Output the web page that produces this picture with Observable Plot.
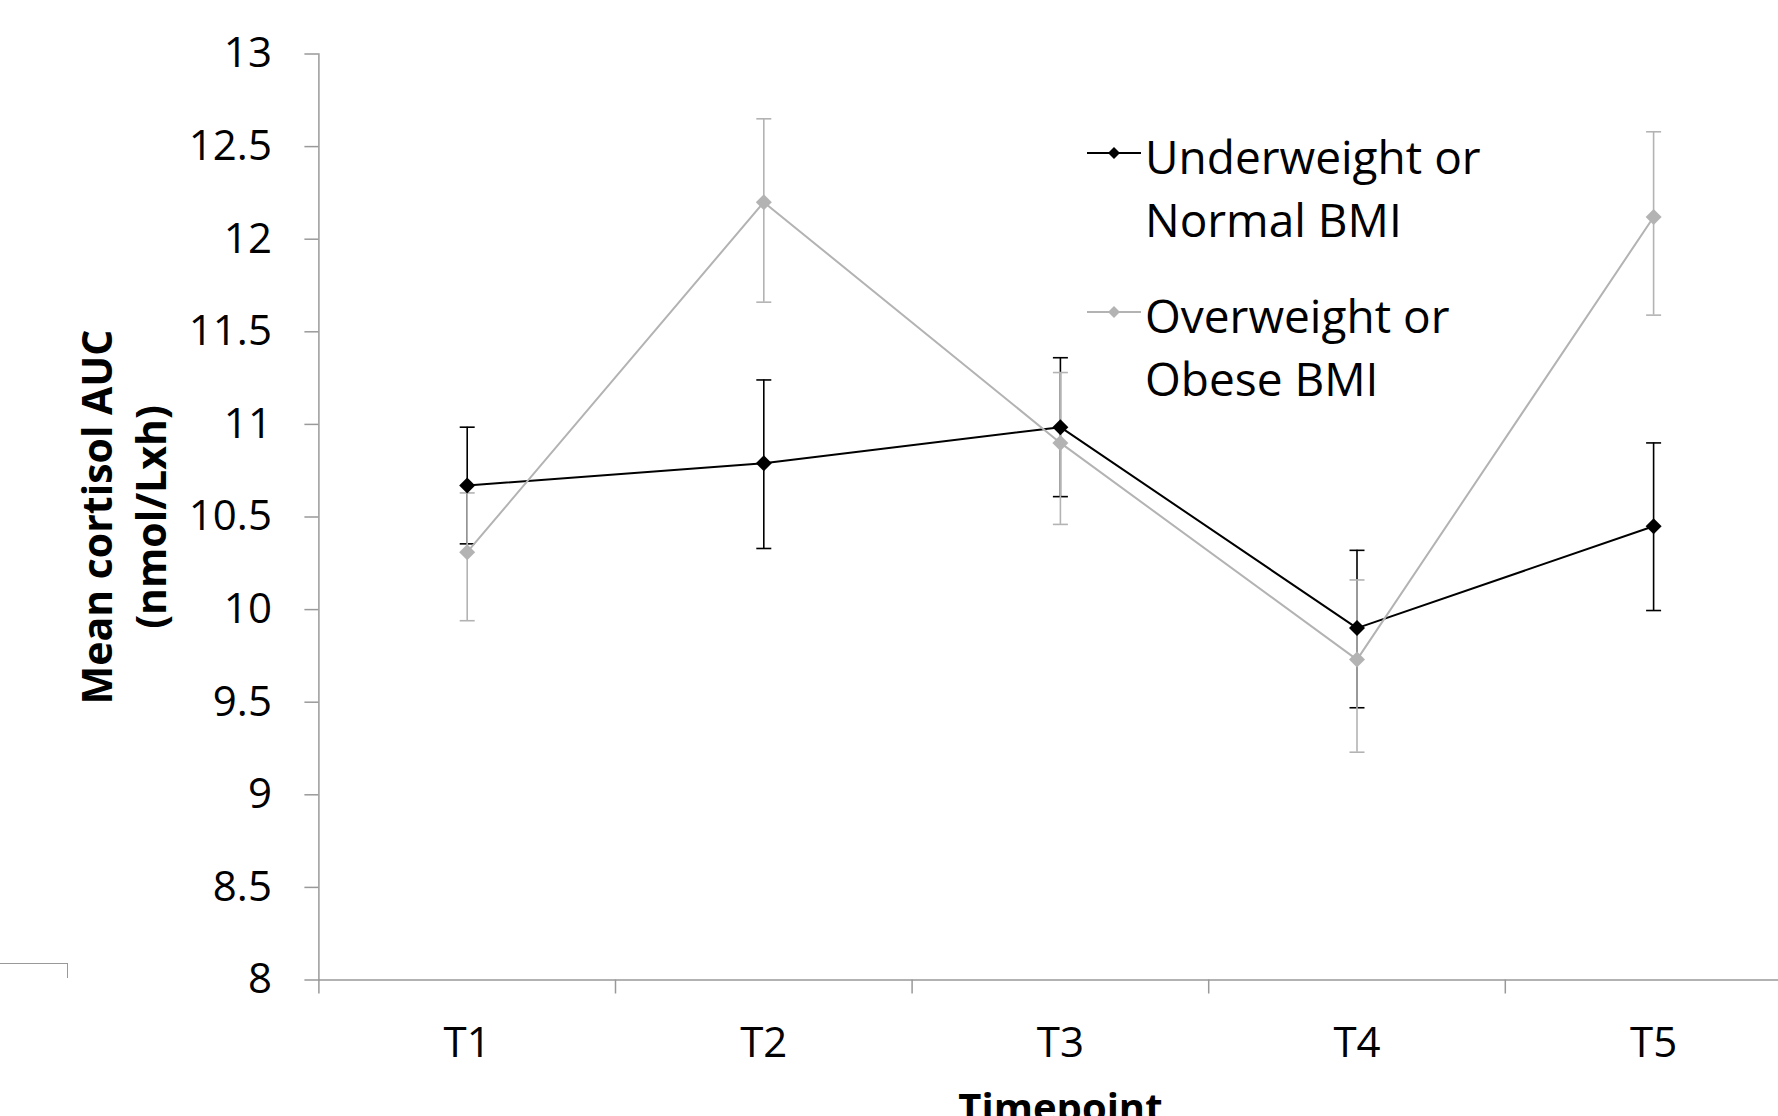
<!DOCTYPE html>
<html>
<head>
<meta charset="utf-8">
<script src="https://cdn.jsdelivr.net/npm/d3@7"></script>
<script src="https://cdn.jsdelivr.net/npm/@observablehq/plot@0.6"></script>
<style>
  html, body { margin: 0; padding: 0; background: #fff; }
  #wrap { position: relative; width: 1778px; height: 1116px; overflow: hidden; font-family: "Open Sans", sans-serif; }
  #legend { position: absolute; left: 1087px; top: 124.6px; }
  .item { position: relative; padding-left: 58px; font-size: 46px; line-height: 63px; color: #000; white-space: nowrap; }
  .item + .item { margin-top: 33px; }
  .item svg { position: absolute; left: 0; top: 20px; }
  #artifact { position: absolute; left: 0; top: 963px; width: 67px; height: 14px; border-top: 1.5px solid #999; border-right: 1.5px solid #999; }
  g[aria-label="marker"] { filter: drop-shadow(1px 2px 2px rgba(0,0,0,0.35)); }
</style>
</head>
<body>
<div id="wrap">
  <div id="chart"></div>
  <div id="legend"></div>
  <div id="artifact"></div>
</div>
<script>
// ---- data ----
const timepoints = ["T1", "T2", "T3", "T4", "T5"];
const seriesNames = ["Underweight or\nNormal BMI", "Overweight or\nObese BMI"];

const normalMean = [10.67, 10.79, 10.985, 9.90, 10.45];
const normalLow  = [10.355, 10.33, 10.61, 9.47, 9.995];
const normalHigh = [10.985, 11.24, 11.36, 10.32, 10.90];

const overMean = [10.31, 12.20, 10.90, 9.73, 12.12];
const overLow  = [9.94, 11.66, 10.46, 9.23, 11.59];
const overHigh = [10.63, 12.65, 11.28, 10.16, 12.58];

const yTicks = [8, 8.5, 9, 9.5, 10, 10.5, 11, 11.5, 12, 12.5, 13];

// ---- styling ----
const axisGrey = "#999";
const seriesStyles = [
  {color: "#000000", lineWidth: 2, barWidth: 1.6},
  {color: "#b3b3b3", lineWidth: 2, barWidth: 1.6}
];

const series = [
  {name: seriesNames[0], mean: normalMean, low: normalLow, high: normalHigh, ...seriesStyles[0]},
  {name: seriesNames[1], mean: overMean, low: overLow, high: overHigh, ...seriesStyles[1]}
];
const rowsOf = s => timepoints.map((t, i) => ({t: i + 1, label: t, mean: s.mean[i], low: s.low[i], high: s.high[i]}));

const capSymbol = {draw(ctx, size) { const h = Math.sqrt(size / Math.PI); ctx.moveTo(-h, 0); ctx.lineTo(h, 0); }};
const diamondSymbol = {draw(ctx, size) { const h = Math.sqrt(size / Math.PI); ctx.moveTo(0, -h); ctx.lineTo(h, 0); ctx.lineTo(0, h); ctx.lineTo(-h, 0); ctx.closePath(); }};

const n = timepoints.length;
const boundaries = d3.range(0.5, n + 1, 1);

const bars = series.flatMap(s => {
  const rows = rowsOf(s);
  return [
    Plot.ruleX(rows, {x: "t", y1: "low", y2: "high", stroke: s.color, strokeWidth: s.barWidth}),
    Plot.dot(rows, {x: "t", y: "low", symbol: capSymbol, r: 7.5, stroke: s.color, strokeWidth: s.barWidth, fill: "none"}),
    Plot.dot(rows, {x: "t", y: "high", symbol: capSymbol, r: 7.5, stroke: s.color, strokeWidth: s.barWidth, fill: "none"})
  ];
});
const lines = series.map(s => Plot.line(rowsOf(s), {x: "t", y: "mean", stroke: s.color, strokeWidth: s.lineWidth}));
const markers = series.map(s => Plot.dot(rowsOf(s), {x: "t", y: "mean", symbol: diamondSymbol, r: 8, fill: s.color, stroke: "none", ariaLabel: "marker"}));

const chart = Plot.plot({
  width: 1778,
  height: 1116,
  marginLeft: 318.4,
  marginRight: -23.4,
  marginTop: 53.5,
  marginBottom: 136.5,
  style: {fontFamily: "Open Sans", fontSize: "42px", background: "transparent", color: "#000"},
  x: {type: "linear", domain: [0.5, n + 0.5], axis: null},
  y: {type: "linear", domain: [8, 13], axis: null},
  marks: [
    Plot.ruleY([8], {stroke: axisGrey, strokeWidth: 1.5}),
    Plot.frame({anchor: "left", stroke: axisGrey, strokeWidth: 1.5}),
    Plot.axisY({ticks: yTicks, tickFormat: d => String(d), tickSize: 14, tickPadding: 33, stroke: axisGrey, strokeWidth: 1.5, fill: "#000", fontSize: 42, label: null}),
    Plot.axisX({ticks: boundaries, tickFormat: () => "", tickSize: 14, stroke: axisGrey, strokeWidth: 1.5, label: null}),
    Plot.axisX({ticks: d3.range(1, n + 1), tickFormat: i => timepoints[i - 1], tickSize: 0, tickPadding: 47.5, fill: "#000", fontSize: 42, label: null}),
    Plot.text(["Mean cortisol AUC\n(nmol/Lxh)"], {frameAnchor: "left", rotate: -90, dx: -197, fontSize: 41, fontWeight: "bold", lineHeight: 1.3, textAnchor: "middle", lineAnchor: "middle", fill: "#000"}),
    Plot.text(["Timepoint"], {frameAnchor: "bottom", dy: 113.5, lineAnchor: "top", textAnchor: "middle", fontSize: 40, fontWeight: "bold", fill: "#000"}),
    ...bars,
    ...lines,
    ...markers
  ]
});
document.getElementById("chart").appendChild(chart);

// ---- legend ----
const legend = document.getElementById("legend");
series.forEach(s => {
  const item = document.createElement("div");
  item.className = "item";
  const sw = d3.create("svg").attr("width", 54).attr("height", 16);
  sw.append("line").attr("x1", 0).attr("x2", 54).attr("y1", 8).attr("y2", 8).attr("stroke", s.color).attr("stroke-width", 2);
  sw.append("path").attr("d", d3.symbol(diamondSymbol, Math.PI * 36)()).attr("transform", "translate(27,8)").attr("fill", s.color);
  item.appendChild(sw.node());
  s.name.split("\n").forEach(line => {
    const d = document.createElement("div");
    d.textContent = line;
    item.appendChild(d);
  });
  legend.appendChild(item);
});
</script>
</body>
</html>
